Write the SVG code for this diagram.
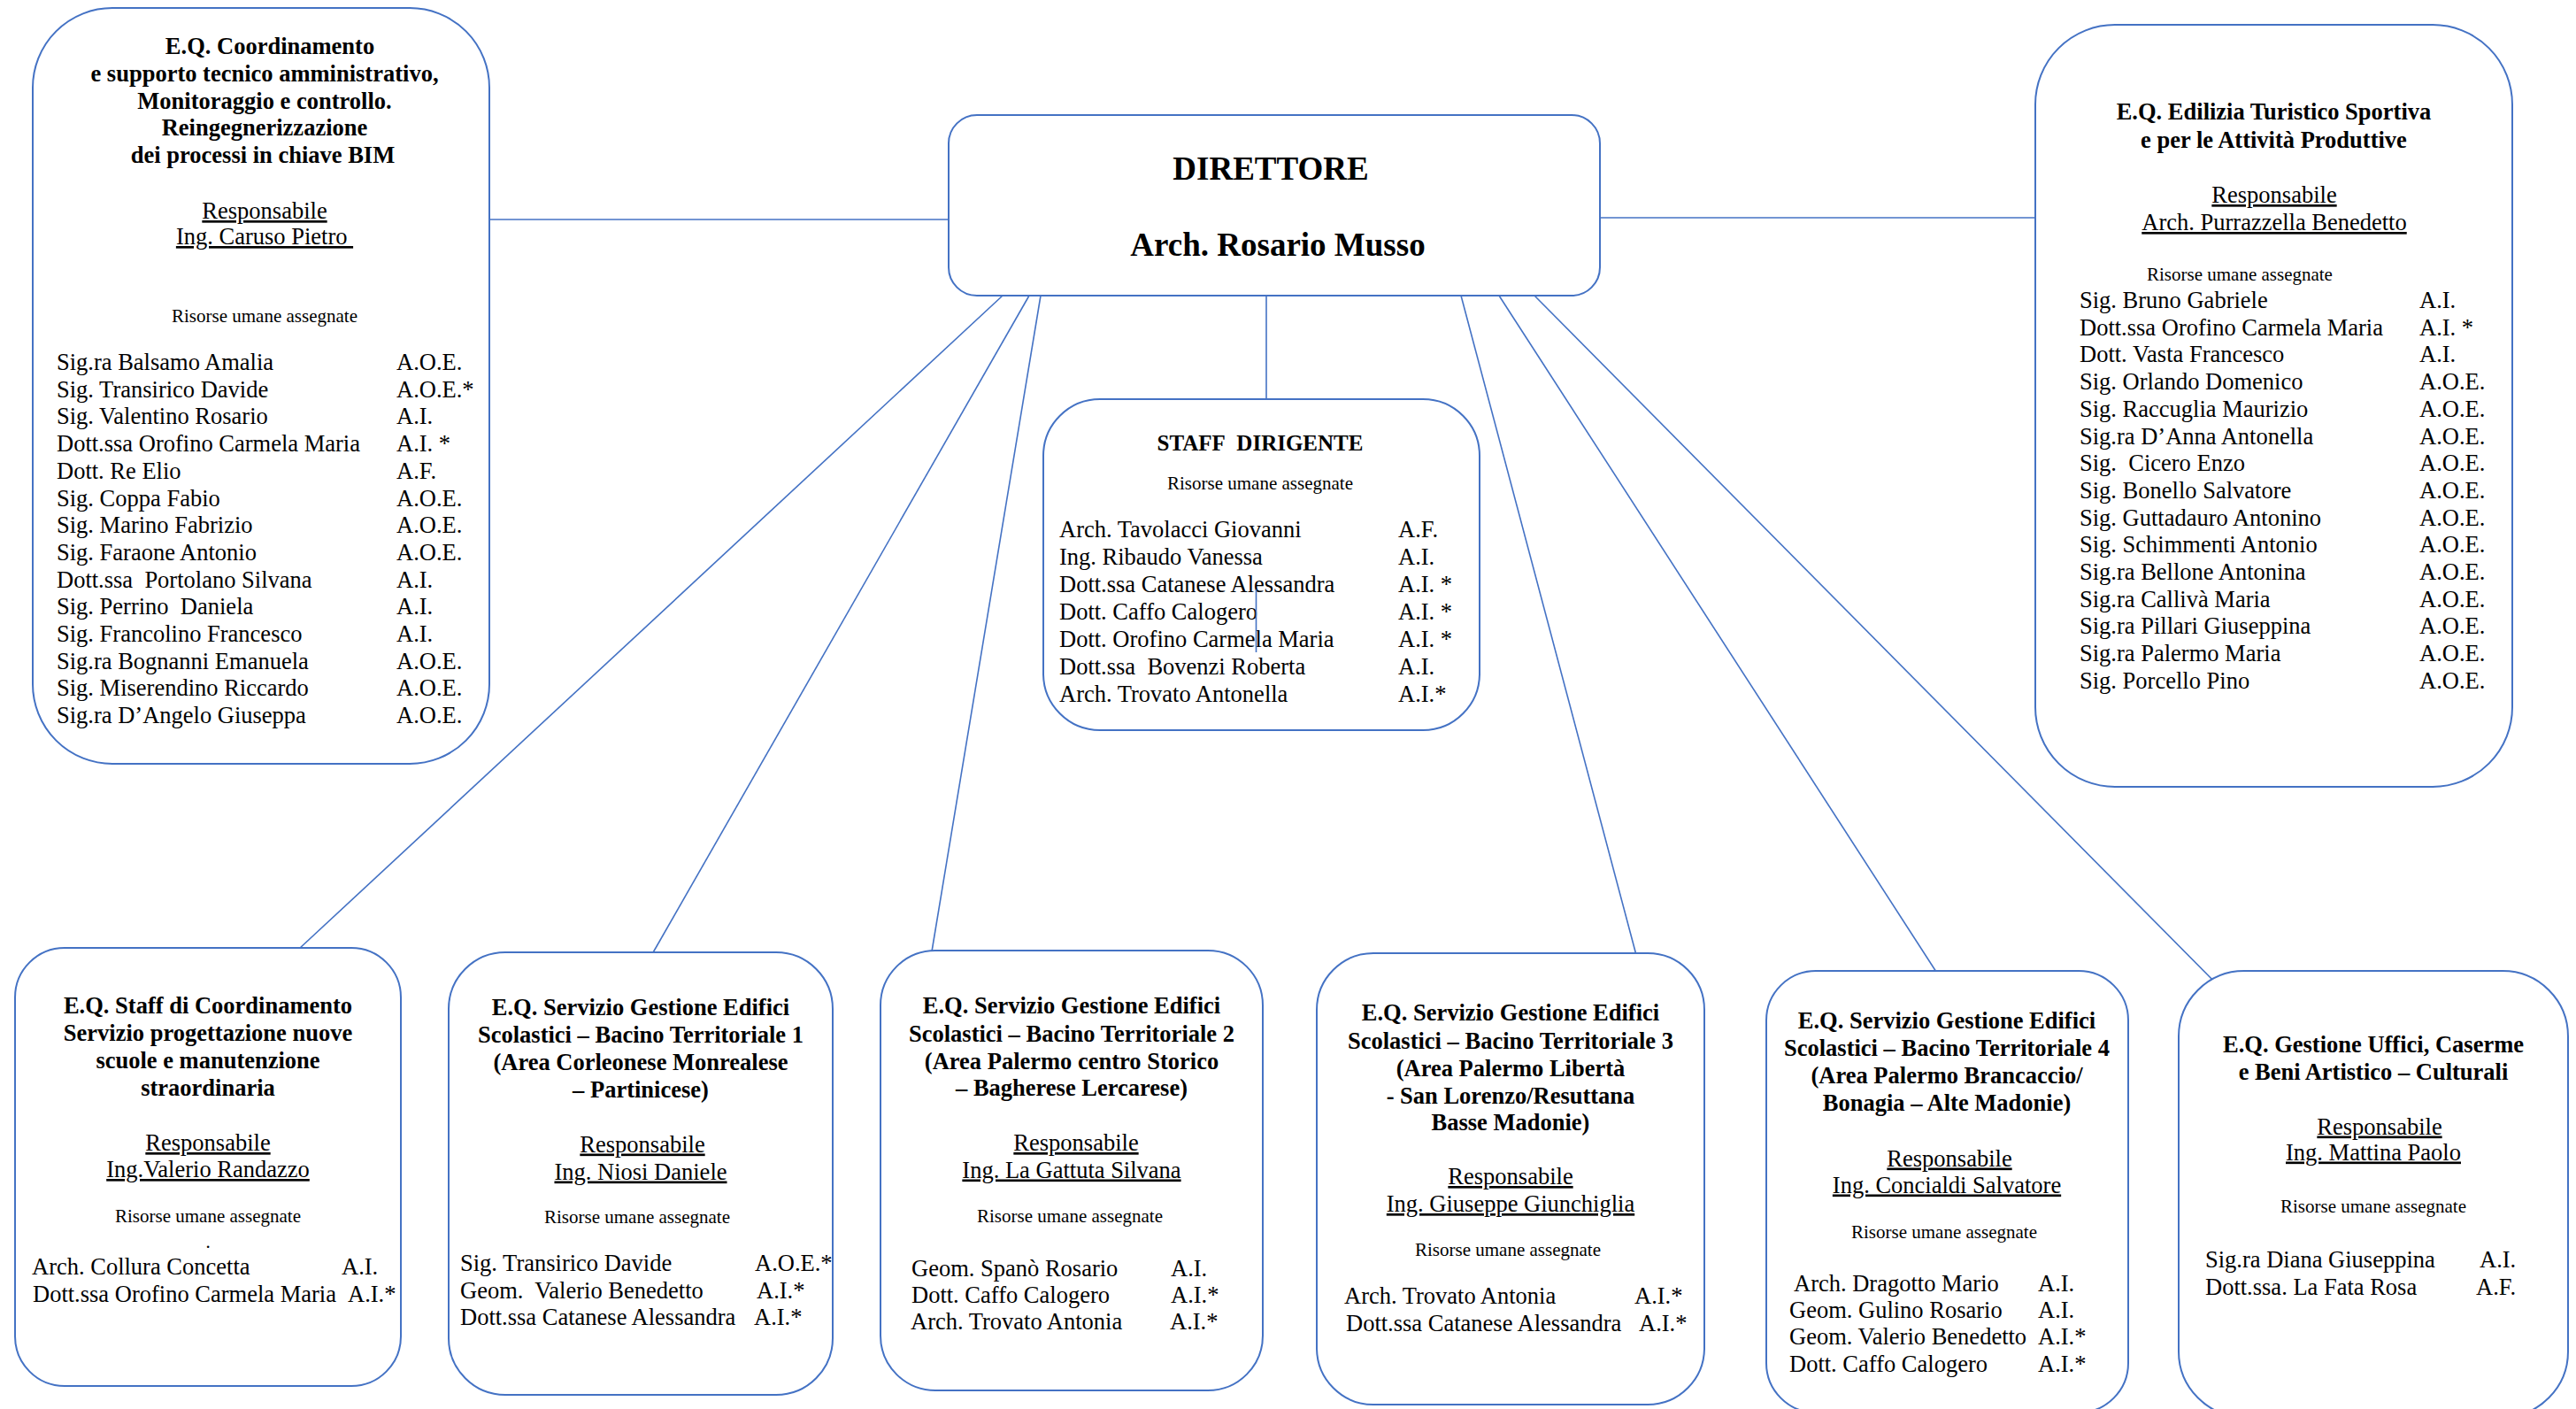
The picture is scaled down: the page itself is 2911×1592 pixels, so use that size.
<svg xmlns="http://www.w3.org/2000/svg" width="2911" height="1592" viewBox="0 0 2911 1592">
<style>
.box{fill:#fff;stroke:#4472C4;stroke-width:2}
.conn{stroke:#4472C4;stroke-width:1.6;fill:none}
text{font-family:"Liberation Serif","Times New Roman",serif;font-size:26.5px;fill:#000}
.b{font-weight:bold}
.c{text-anchor:middle}
.s{font-size:21px}
.u{text-decoration:underline}
.d{font-size:37px;font-weight:bold;text-anchor:middle}
</style>
<rect width="2911" height="1592" fill="#fff"/>
<g id="connectors">
<line class="conn" x1="540" y1="248" x2="1085" y2="248"/>
<line class="conn" x1="1795" y1="246" x2="2312" y2="246"/>
<line class="conn" x1="1431" y1="334" x2="1431" y2="451"/>
<line class="conn" x1="1133" y1="334" x2="338" y2="1072"/>
<line class="conn" x1="1163" y1="334" x2="737" y2="1078"/>
<line class="conn" x1="1176" y1="334" x2="1053" y2="1075"/>
<line class="conn" x1="1651" y1="334" x2="1849" y2="1079"/>
<line class="conn" x1="1694" y1="334" x2="2188" y2="1098"/>
<line class="conn" x1="1734" y1="334" x2="2523" y2="1130"/>
</g>

<g id="director">
<rect class="box" x="1072" y="130" width="736" height="204" rx="32"/>
<text class="d" x="1436" y="203">DIRETTORE</text>
<text class="d" x="1444" y="289">Arch. Rosario Musso</text>
</g>

<g id="eq-coordinamento">
<rect class="box" x="37" y="9" width="516" height="854" rx="90"/>
<text class="b c" x="299"><tspan x="305" y="61">E.Q. Coordinamento</tspan><tspan x="299" y="92">e supporto tecnico amministrativo,</tspan><tspan x="299" y="122.5">Monitoraggio e controllo.</tspan><tspan x="299" y="153">Reingegnerizzazione</tspan><tspan x="297" y="184">dei processi in chiave BIM</tspan></text>
<text class="c u" x="299" y="247">Responsabile</text>
<text class="c u" x="299" y="276">Ing. Caruso Pietro&#160;</text>
<text class="c s" x="299" y="364">Risorse umane assegnate</text>
<text x="64"><tspan x="64" y="418">Sig.ra Balsamo Amalia</tspan><tspan x="64" y="448.7">Sig. Transirico Davide</tspan><tspan x="64" y="479.4">Sig. Valentino Rosario</tspan><tspan x="64" y="510.1">Dott.ssa Orofino Carmela Maria</tspan><tspan x="64" y="540.8">Dott. Re Elio</tspan><tspan x="64" y="571.5">Sig. Coppa Fabio</tspan><tspan x="64" y="602.2">Sig. Marino Fabrizio</tspan><tspan x="64" y="632.9">Sig. Faraone Antonio</tspan><tspan x="64" y="663.6">Dott.ssa&#160; Portolano Silvana</tspan><tspan x="64" y="694.3">Sig. Perrino&#160; Daniela</tspan><tspan x="64" y="725">Sig. Francolino Francesco</tspan><tspan x="64" y="755.7">Sig.ra Bognanni Emanuela</tspan><tspan x="64" y="786.4">Sig. Miserendino Riccardo</tspan><tspan x="64" y="817.1">Sig.ra D’Angelo Giuseppa</tspan></text>
<text x="448"><tspan x="448" y="418">A.O.E.</tspan><tspan x="448" y="448.7">A.O.E.*</tspan><tspan x="448" y="479.4">A.I.</tspan><tspan x="448" y="510.1">A.I. *</tspan><tspan x="448" y="540.8">A.F.</tspan><tspan x="448" y="571.5">A.O.E.</tspan><tspan x="448" y="602.2">A.O.E.</tspan><tspan x="448" y="632.9">A.O.E.</tspan><tspan x="448" y="663.6">A.I.</tspan><tspan x="448" y="694.3">A.I.</tspan><tspan x="448" y="725">A.I.</tspan><tspan x="448" y="755.7">A.O.E.</tspan><tspan x="448" y="786.4">A.O.E.</tspan><tspan x="448" y="817.1">A.O.E.</tspan></text>
</g>

<g id="staff-dirigente">
<rect class="box" x="1179" y="451" width="493" height="374" rx="64"/>
<text class="b c" x="1424" y="509" style="font-size:25px">STAFF&#160; DIRIGENTE</text>
<text class="c s" x="1424" y="553">Risorse umane assegnate</text>
<text x="1197"><tspan x="1197" y="607">Arch. Tavolacci Giovanni</tspan><tspan x="1197" y="638">Ing. Ribaudo Vanessa</tspan><tspan x="1197" y="669">Dott.ssa Catanese Alessandra</tspan><tspan x="1197" y="700">Dott. Caffo Calogero</tspan><tspan x="1197" y="731">Dott. Orofino Carmela Maria</tspan><tspan x="1197" y="762">Dott.ssa&#160; Bovenzi Roberta</tspan><tspan x="1197" y="793">Arch. Trovato Antonella</tspan></text>
<text x="1580"><tspan x="1580" y="607">A.F.</tspan><tspan x="1580" y="638">A.I.</tspan><tspan x="1580" y="669">A.I. *</tspan><tspan x="1580" y="700">A.I. *</tspan><tspan x="1580" y="731">A.I. *</tspan><tspan x="1580" y="762">A.I.</tspan><tspan x="1580" y="793">A.I.*</tspan></text>
<line class="conn" x1="1419.5" y1="666" x2="1419.5" y2="737"/>
</g>

<g id="eq-edilizia">
<rect class="box" x="2300" y="28" width="539" height="861" rx="90"/>
<text class="b c" x="2569.5"><tspan x="2569.5" y="135">E.Q. Edilizia Turistico Sportiva</tspan><tspan x="2569.5" y="167">e per le Attività Produttive</tspan></text>
<text class="c u" x="2570" y="229">Responsabile</text>
<text class="c u" x="2570" y="260">Arch. Purrazzella Benedetto</text>
<text class="s" x="2426" y="317">Risorse umane assegnate</text>
<text x="2350"><tspan x="2350" y="348">Sig. Bruno Gabriele</tspan><tspan x="2350" y="378.7">Dott.ssa Orofino Carmela Maria</tspan><tspan x="2350" y="409.4">Dott. Vasta Francesco</tspan><tspan x="2350" y="440.1">Sig. Orlando Domenico</tspan><tspan x="2350" y="470.8">Sig. Raccuglia Maurizio</tspan><tspan x="2350" y="501.5">Sig.ra D’Anna Antonella</tspan><tspan x="2350" y="532.2">Sig.&#160; Cicero Enzo</tspan><tspan x="2350" y="562.9">Sig. Bonello Salvatore</tspan><tspan x="2350" y="593.6">Sig. Guttadauro Antonino</tspan><tspan x="2350" y="624.3">Sig. Schimmenti Antonio</tspan><tspan x="2350" y="655">Sig.ra Bellone Antonina</tspan><tspan x="2350" y="685.7">Sig.ra Callivà Maria</tspan><tspan x="2350" y="716.4">Sig.ra Pillari Giuseppina</tspan><tspan x="2350" y="747.1">Sig.ra Palermo Maria</tspan><tspan x="2350" y="777.8">Sig. Porcello Pino</tspan></text>
<text x="2734"><tspan x="2734" y="348">A.I.</tspan><tspan x="2734" y="378.7">A.I. *</tspan><tspan x="2734" y="409.4">A.I.</tspan><tspan x="2734" y="440.1">A.O.E.</tspan><tspan x="2734" y="470.8">A.O.E.</tspan><tspan x="2734" y="501.5">A.O.E.</tspan><tspan x="2734" y="532.2">A.O.E.</tspan><tspan x="2734" y="562.9">A.O.E.</tspan><tspan x="2734" y="593.6">A.O.E.</tspan><tspan x="2734" y="624.3">A.O.E.</tspan><tspan x="2734" y="655">A.O.E.</tspan><tspan x="2734" y="685.7">A.O.E.</tspan><tspan x="2734" y="716.4">A.O.E.</tspan><tspan x="2734" y="747.1">A.O.E.</tspan><tspan x="2734" y="777.8">A.O.E.</tspan></text>
</g>

<g id="eq-staff-coordinamento">
<rect class="box" x="17" y="1071" width="436" height="495" rx="56"/>
<text class="b c" x="235"><tspan x="235" y="1145">E.Q. Staff di Coordinamento</tspan><tspan x="235" y="1176">Servizio progettazione nuove</tspan><tspan x="235" y="1207">scuole e manutenzione</tspan><tspan x="235" y="1238">straordinaria</tspan></text>
<text class="c u" x="235" y="1300">Responsabile</text>
<text class="c u" x="235" y="1330">Ing.Valerio Randazzo</text>
<text class="c s" x="235" y="1381">Risorse umane assegnate</text>
<text class="c s" x="235" y="1410">.</text>
<text x="36" y="1440">Arch. Collura Concetta</text>
<text x="386" y="1440">A.I.</text>
<text x="37" y="1470.5">Dott.ssa Orofino Carmela Maria</text>
<text x="393" y="1470.5">A.I.*</text>
</g>

<g id="eq-bacino-1">
<rect class="box" x="507" y="1076" width="434" height="500" rx="64"/>
<text class="b c" x="724"><tspan x="724" y="1146.5">E.Q. Servizio Gestione Edifici</tspan><tspan x="724" y="1178">Scolastici – Bacino Territoriale 1</tspan><tspan x="724" y="1209">(Area Corleonese Monrealese</tspan><tspan x="724" y="1240">– Partinicese)</tspan></text>
<text class="c u" x="726" y="1301.5">Responsabile</text>
<text class="c u" x="724" y="1332.5">Ing. Niosi Daniele</text>
<text class="c s" x="720" y="1381.5">Risorse umane assegnate</text>
<text x="520"><tspan x="520" y="1436">Sig. Transirico Davide</tspan><tspan x="520" y="1466.5">Geom.&#160; Valerio Benedetto</tspan><tspan x="520" y="1497">Dott.ssa Catanese Alessandra</tspan></text>
<text x="853" y="1436">A.O.E.*</text>
<text x="855" y="1466.5">A.I.*</text>
<text x="852" y="1497">A.I.*</text>
</g>

<g id="eq-bacino-2">
<rect class="box" x="995" y="1074" width="432" height="497" rx="62"/>
<text class="b c" x="1211"><tspan x="1211" y="1145">E.Q. Servizio Gestione Edifici</tspan><tspan x="1211" y="1177">Scolastici – Bacino Territoriale 2</tspan><tspan x="1211" y="1207.5">(Area Palermo centro Storico</tspan><tspan x="1211" y="1238">– Bagherese Lercarese)</tspan></text>
<text class="c u" x="1216" y="1300">Responsabile</text>
<text class="c u" x="1211" y="1330.5">Ing. La Gattuta Silvana</text>
<text class="c s" x="1209" y="1380.5">Risorse umane assegnate</text>
<text x="1030"><tspan x="1030" y="1441.5">Geom. Spanò Rosario</tspan><tspan x="1030" y="1471.5">Dott. Caffo Calogero</tspan><tspan x="1029" y="1502">Arch. Trovato Antonia</tspan></text>
<text x="1323" y="1441.5">A.I.</text>
<text x="1323" y="1471.5">A.I.*</text>
<text x="1322" y="1502">A.I.*</text>
</g>

<g id="eq-bacino-3">
<rect class="box" x="1488" y="1077" width="438" height="510" rx="64"/>
<text class="b c" x="1707"><tspan x="1707" y="1153">E.Q. Servizio Gestione Edifici</tspan><tspan x="1707" y="1185">Scolastici – Bacino Territoriale 3</tspan><tspan x="1707" y="1216">(Area Palermo Libertà</tspan><tspan x="1707" y="1246.5">- San Lorenzo/Resuttana</tspan><tspan x="1707" y="1277">Basse Madonie)</tspan></text>
<text class="c u" x="1707" y="1338">Responsabile</text>
<text class="c u" x="1707" y="1369">Ing. Giuseppe Giunchiglia</text>
<text class="c s" x="1704" y="1419">Risorse umane assegnate</text>
<text x="1519" y="1473">Arch. Trovato Antonia</text>
<text x="1847" y="1473">A.I.*</text>
<text x="1521" y="1504">Dott.ssa Catanese Alessandra</text>
<text x="1852" y="1504">A.I.*</text>
</g>

<g id="eq-bacino-4">
<rect class="box" x="1996" y="1097" width="409" height="499" rx="56"/>
<text class="b c" x="2200"><tspan x="2200" y="1161.5">E.Q. Servizio Gestione Edifici</tspan><tspan x="2200" y="1192.5">Scolastici – Bacino Territoriale 4</tspan><tspan x="2200" y="1223.5">(Area Palermo Brancaccio/</tspan><tspan x="2200" y="1254.5">Bonagia – Alte Madonie)</tspan></text>
<text class="c u" x="2203" y="1317.5">Responsabile</text>
<text class="c u" x="2200" y="1347.5">Ing. Concialdi Salvatore</text>
<text class="c s" x="2197" y="1398.5">Risorse umane assegnate</text>
<text x="2022"><tspan x="2027" y="1458.5">Arch. Dragotto Mario</tspan><tspan x="2022" y="1488.5">Geom. Gulino Rosario</tspan><tspan x="2022" y="1519">Geom. Valerio Benedetto</tspan><tspan x="2022" y="1550">Dott. Caffo Calogero</tspan></text>
<text x="2303"><tspan x="2303" y="1458.5">A.I.</tspan><tspan x="2303" y="1488.5">A.I.</tspan><tspan x="2303" y="1519">A.I.*</tspan><tspan x="2303" y="1550">A.I.*</tspan></text>
</g>

<g id="eq-gestione-uffici">
<rect class="box" x="2462" y="1097" width="440" height="504" rx="74"/>
<text class="b c" x="2682"><tspan x="2682" y="1188.5">E.Q. Gestione Uffici, Caserme</tspan><tspan x="2682" y="1219.5">e Beni Artistico – Culturali</tspan></text>
<text class="c u" x="2689" y="1281.5">Responsabile</text>
<text class="c u" x="2682" y="1310.5">Ing. Mattina Paolo</text>
<text class="c s" x="2682" y="1369.5">Risorse umane assegnate</text>
<text x="2492" y="1431.5">Sig.ra Diana Giuseppina</text>
<text x="2802" y="1431.5">A.I.</text>
<text x="2492" y="1462.5">Dott.ssa. La Fata Rosa</text>
<text x="2798" y="1462.5">A.F.</text>
</g>
</svg>
